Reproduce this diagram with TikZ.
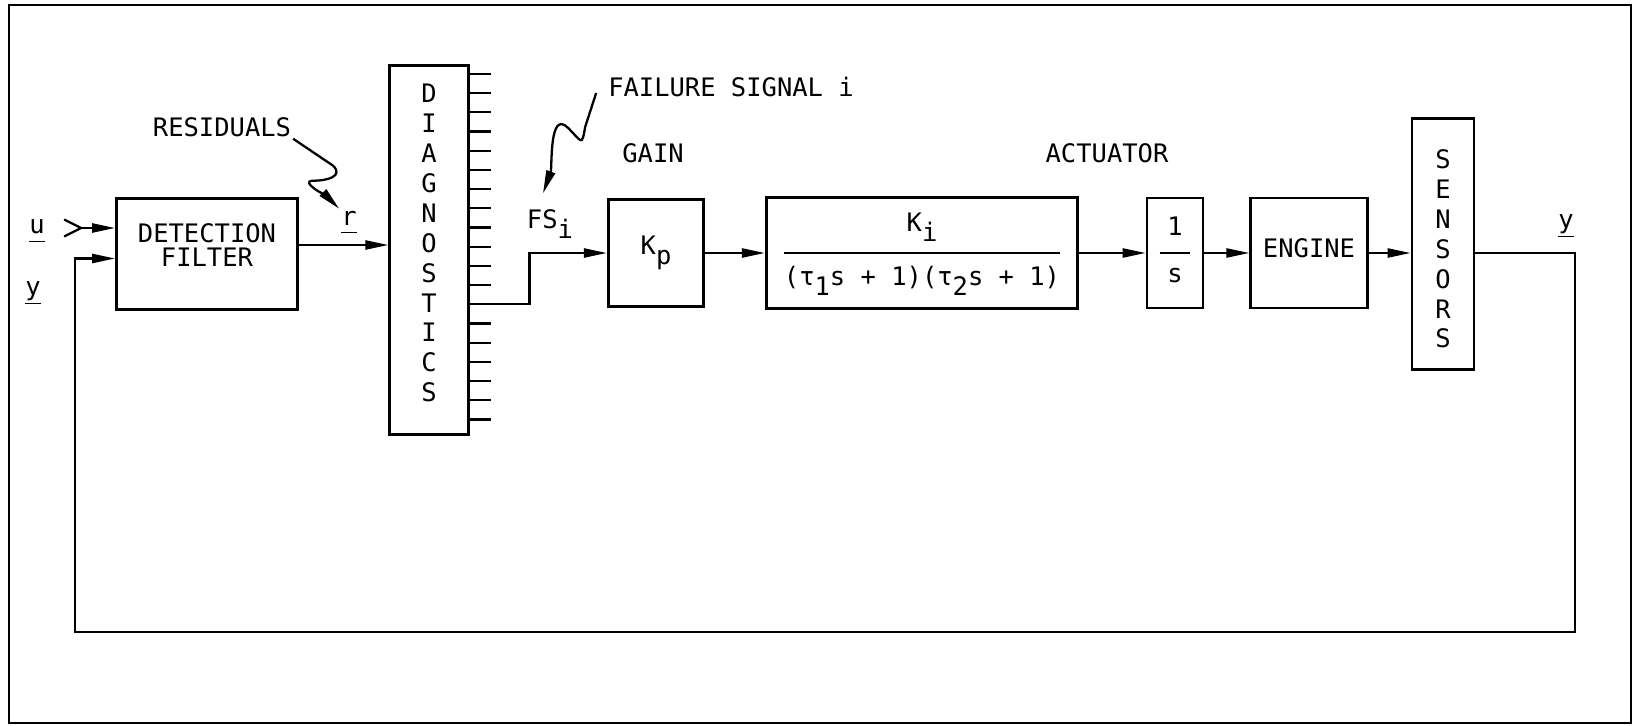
\documentclass[tikz,border=0pt]{standalone}
\usepackage{fontspec}
\newfontfamily\tfont{DejaVu Sans Mono}
\usetikzlibrary{arrows.meta,calc,positioning}
\setlength{\arrayrulewidth}{1.3pt}

\newcommand{\dn}[1]{\raisebox{-0.4em}{#1}}
\newcommand{\uvec}[1]{\underline{#1\rule[-2.5pt]{0pt}{0pt}}}

\begin{document}
\begin{tikzpicture}[
  x=0.2mm,y=0.2mm,
  font=\tfont\fontsize{14.5}{17}\selectfont,
  >={Triangle[length=4.6mm,width=1.8mm]},
  sig/.style={->,line width=1.3pt},
  wire/.style={line width=1.3pt},
  block/.style={draw,line width=1.5pt,inner sep=0pt,align=center},
  lbl/.style={inner sep=1pt}
]
\useasboundingbox (0,0) rectangle (1633,725);
\draw[wire] (9,2) rectangle (1631,720);

% Blocks.
\node[block,minimum width=36.2mm,minimum height=22.2mm] (filt) at (207,471) {DETECTION\\[-3.7pt]FILTER\rule[-3.6mm]{0pt}{0pt}};
\node[block,minimum width=15.7mm,minimum height=73.9mm] (diag) at (429,475) {D\\I\\A\\G\\N\\O\\S\\T\\I\\C\\S\rule[-2.8mm]{0pt}{0pt}};
\node[block,minimum width=19.1mm,minimum height=21.5mm] (kp) at (656,472) {K\dn{p}};
\node[block,minimum width=62.3mm,minimum height=22.1mm] (act) at (922,472) {\begin{tabular}{@{}c@{}}K\dn{i}\\[6.5pt]\hline\rule{0pt}{18pt}(τ\dn{1}s + 1)(τ\dn{2}s + 1)\end{tabular}};
\node[block,minimum width=11.2mm,minimum height=22mm] (integ) at (1175,472) {\begin{tabular}{@{}c@{}}\makebox[1.2em]{1}\\[4.3pt]\hline\rule{0pt}{16.5pt}s\end{tabular}};
\node[block,minimum width=23.3mm,minimum height=22mm] (eng) at (1309,472) {ENGINE\rule[-1.8mm]{0pt}{0pt}};
\node[block,minimum width=12.4mm,minimum height=50.3mm] (sens) at (1443,481) {\rule{0pt}{5.8mm}S\\E\\N\\S\\O\\R\\S};

% Labels.
\node[lbl] (ulab) at (37,494) {\uvec{u}};
\node[lbl] (ylab) at (33,432) {\uvec{y}};
\node[lbl] (rlab) at (349,503) {\uvec{r}};
\node[lbl] (ylabr) at (1566,499) {\uvec{y}};
\node[lbl] (resid) at (222,598) {RESIDUALS};
\node[lbl] (fail) at (731,638) {FAILURE SIGNAL i};
\node[lbl] (gain) at (653,572) {GAIN};
\node[lbl] (actlab) at (1107,572) {ACTUATOR};
\node[lbl] (fslab) at (550,501) {FS\dn{i}};

% Diagnostic outputs.
\foreach \k in {0,...,18}
  \draw[wire] ($(diag.north east)+(0,-10-19.2*\k)$) -- ++(21,0);

% Signals.
\coordinate (uin) at (63,497);
\coordinate (yin) at ($(filt.west)+(0,-4.5)$);
\coordinate (rout) at ($(filt.east)+(0,9)$);
\coordinate (fsout) at ($(diag.north east)+(0,-240.4)$);
\coordinate (fbl) at (75,93);
\coordinate (fbr) at (1575,93);
\draw[sig,{Straight Barb[reversed,length=3.4mm,width=3.4mm]}->] (uin) -- (uin -| filt.west);
\draw[sig] (rout) -- (rout -| diag.west);
\draw[sig] (fsout) -- ++(60,0) |- (kp.west);
\draw[sig] (kp.east) -- (act.west);
\draw[sig] (act.east) -- (integ.west);
\draw[sig] (integ.east) -- (eng.west);
\draw[sig] (eng.east) -- (eng.east -| sens.west);
\draw[sig] (eng.east -| sens.east) -| (fbr) -- (fbl) |- (yin);

% Pointers.
\draw[sig] (resid.south east) -- ++(40,-27) to[out=-45,in=0,looseness=1.5] ++(-20,-15) to[out=180,in=135] (rlab.north west);
\draw[sig] (fail.west) ++(-10,-6) -- ++(-11,-34) to[out=-100,in=-45,looseness=3] ++(-17,-1) to[out=135,in=70] ($(fslab.north)+(-7,14)$);
\end{tikzpicture}
\end{document}
